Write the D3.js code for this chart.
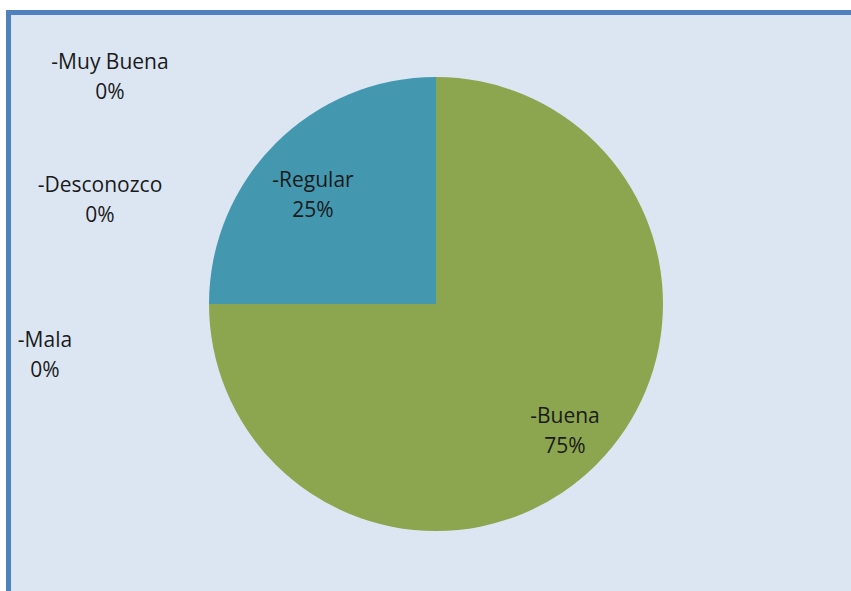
<!DOCTYPE html>
<html><head><meta charset="utf-8">
<script src="https://cdn.jsdelivr.net/npm/d3@7/dist/d3.min.js"></script>
<style>html,body{margin:0;padding:0;background:#fff;}svg{display:block;}</style>
</head><body>
<svg id="chart" width="851" height="591"></svg>
<script>
const categories = ["-Buena", "-Regular", "-Muy Buena", "-Desconozco", "-Mala"];
const values = [75, 25, 0, 0, 0];
const colors = ["#8BA64F", "#4398B0", "#4F81BD", "#C0504D", "#8064A2"];

const W = 851, H = 591;
const svg = d3.select("#chart");
const cx = 436, cy = 304, R = 227;

// Chart area with blue border (extends beyond right/bottom of the picture)
svg.append("rect").attr("x", 8.5).attr("y", 12.5).attr("width", W + 20).attr("height", H + 20)
  .attr("fill", "#DCE6F2").attr("stroke", "#4F81BD").attr("stroke-width", 5);

const data = categories.map((c, i) => ({ name: c, value: values[i], color: colors[i] }));
const pie = d3.pie().value(d => d.value).sort(null).startAngle(0).endAngle(2 * Math.PI);
const arcs = pie(data);
const arc = d3.arc().innerRadius(0).outerRadius(R);

const g = svg.append("g").attr("transform", `translate(${cx},${cy})`);
g.selectAll("path").data(arcs.filter(a => a.value > 0)).join("path")
  .attr("d", arc).attr("fill", d => d.data.color);

// Label layout (offset of label block centre from pie centre)
const labelOffsets = {
  "-Buena": [129, 126],
  "-Regular": [-123, -110],
  "-Muy Buena": [-326, -228],
  "-Desconozco": [-336, -105],
  "-Mala": [-391, 50]
};
const fmt = v => Math.round(v / d3.sum(values) * 100) + "%";
arcs.forEach(a => {
  const [dx, dy] = labelOffsets[a.data.name];
  const t = g.append("text").attr("text-anchor", "middle")
    .attr("font-family", "'Open Sans', sans-serif").attr("font-size", 21)
    .attr("fill", "#1a1a1a")
    .attr("transform", `translate(${dx},${dy})`);
  t.append("tspan").attr("x", 0).attr("y", -7).text(a.data.name);
  t.append("tspan").attr("x", 0).attr("y", 23).text(fmt(a.data.value));
});
</script>
</body></html>
